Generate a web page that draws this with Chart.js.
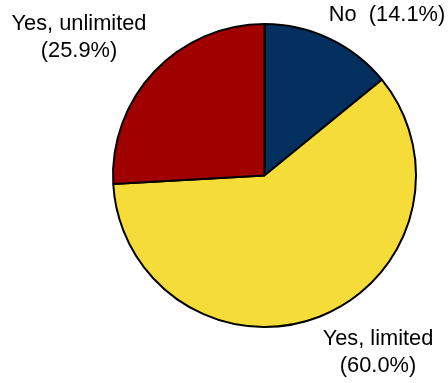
<!DOCTYPE html>
<html>
<head>
<meta charset="utf-8">
<script src="https://cdn.jsdelivr.net/npm/chart.js@4/dist/chart.umd.min.js"></script>
<style>
  html, body { margin: 0; padding: 0; background: #fff; }
  #wrap { width: 448px; height: 383px; position: relative; }
</style>
</head>
<body>
<div id="wrap"><canvas id="pie"></canvas></div>
<script>
const categories = ['No', 'Yes, limited', 'Yes, unlimited']
const shares = [14.1, 60.0, 25.9]
const sliceColors = ['#04305F', '#F6DC38', '#A00000']

// label text lines and where each block is centred on the canvas
const labelSpots = [
    { x: 387, y: 15, lines: [categories[0] + '  (' + shares[0].toFixed(1) + '%)'] },
    { x: 378, y: 339, lines: [categories[1], '(' + shares[1].toFixed(1) + '%)'] },
    { x: 79, y: 24, lines: [categories[2], '(' + shares[2].toFixed(1) + '%)'] }
]

const outsideLabels = {
    id: 'outsideLabels',
    afterDraw(chart) {
        const ctx = chart.ctx
        ctx.save()
        ctx.fillStyle = '#000'
        ctx.font = '21.8px "Liberation Sans", Arial, sans-serif'
        ctx.textAlign = 'center'
        ctx.textBaseline = 'middle'
        labelSpots.forEach(spot => {
            spot.lines.forEach((line, i) => {
                ctx.fillText(line, spot.x, spot.y + i * 27)
            })
        })
        ctx.restore()
    }
}

new Chart(document.getElementById('pie'), {
    type: 'pie',
    data: {
        labels: categories,
        datasets: [{
            data: shares,
            backgroundColor: sliceColors,
            borderColor: '#000',
            borderWidth: 2
        }]
    },
    options: {
        responsive: true,
        maintainAspectRatio: false,
        animation: false,
        layout: {
            padding: { left: 112, right: 31, top: 23, bottom: 55 }
        },
        plugins: {
            legend: { display: false },
            tooltip: { enabled: false }
        }
    },
    plugins: [outsideLabels]
})
</script>
</body>
</html>
